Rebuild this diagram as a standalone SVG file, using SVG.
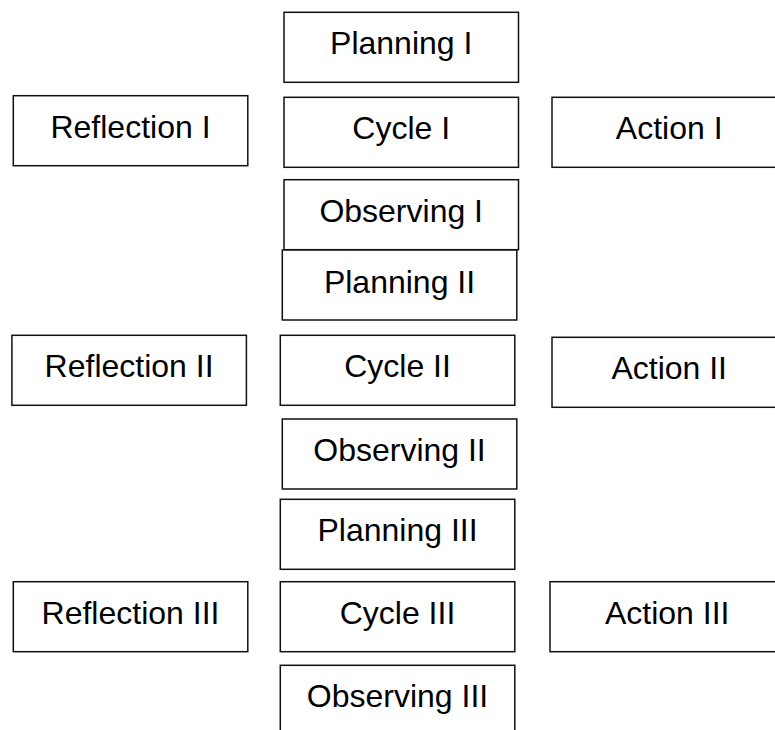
<svg xmlns="http://www.w3.org/2000/svg" width="775" height="730" viewBox="0 0 775 730">
<style>
rect.box { fill: #fff; stroke: #111; stroke-width: 1.5; }
text.lbl { font-family: "Liberation Sans", Arial, sans-serif; font-size: 32px; fill: #000; text-anchor: middle; }
</style>
<rect width="775" height="730" fill="#fff"/>
<g id="connectors"></g>
<g id="planning-1"><rect class="box" x="284" y="12.3" width="234.5" height="70"/><text class="lbl" x="401.2" y="54.3">Planning I</text></g>
<g id="reflection-1"><rect class="box" x="13.3" y="95.7" width="234.5" height="70"/><text class="lbl" x="130.5" y="137.7">Reflection I</text></g>
<g id="cycle-1"><rect class="box" x="284" y="97.3" width="234.5" height="70"/><text class="lbl" x="401.2" y="139.3">Cycle I</text></g>
<g id="action-1"><rect class="box" x="552" y="97.3" width="234.5" height="70"/><text class="lbl" x="669.2" y="139.3">Action I</text></g>
<g id="observing-1"><rect class="box" x="284" y="179.7" width="234.5" height="70"/><text class="lbl" x="401.2" y="221.7">Observing I</text></g>
<g id="planning-2"><rect class="box" x="282.3" y="250" width="234.5" height="70"/><text class="lbl" x="399.5" y="292.5">Planning II</text></g>
<g id="reflection-2"><rect class="box" x="11.9" y="335.3" width="234.5" height="70"/><text class="lbl" x="129.1" y="377.3">Reflection II</text></g>
<g id="cycle-2"><rect class="box" x="280.3" y="335.3" width="234.5" height="70"/><text class="lbl" x="397.5" y="377.3">Cycle II</text></g>
<g id="action-2"><rect class="box" x="552" y="337.3" width="234.5" height="70"/><text class="lbl" x="669.2" y="379.3">Action II</text></g>
<g id="observing-2"><rect class="box" x="282.3" y="419" width="234.5" height="70"/><text class="lbl" x="399.5" y="461">Observing II</text></g>
<g id="planning-3"><rect class="box" x="280.3" y="499.3" width="234.5" height="70"/><text class="lbl" x="397.5" y="541.3">Planning III</text></g>
<g id="reflection-3"><rect class="box" x="13.3" y="581.7" width="234.5" height="70"/><text class="lbl" x="130.5" y="623.7">Reflection III</text></g>
<g id="cycle-3"><rect class="box" x="280.3" y="581.7" width="234.5" height="70"/><text class="lbl" x="397.5" y="623.7">Cycle III</text></g>
<g id="action-3"><rect class="box" x="550" y="581.7" width="234.5" height="70"/><text class="lbl" x="667.2" y="623.7">Action III</text></g>
<g id="observing-3"><rect class="box" x="280.3" y="665.3" width="234.5" height="70"/><text class="lbl" x="397.5" y="707.3">Observing III</text></g>
</svg>
